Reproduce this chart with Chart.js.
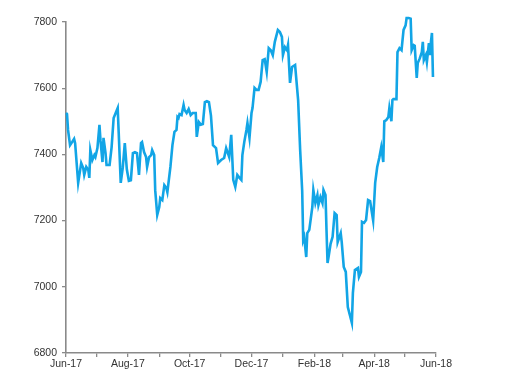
<!DOCTYPE html>
<html>
<head>
<meta charset="utf-8">
<script src="https://cdn.jsdelivr.net/npm/chart.js@4"></script>
<style>
html,body{margin:0;padding:0;background:#fff;}
#wrap{width:512px;height:392px;}
</style>
</head>
<body>
<div id="wrap"><canvas id="c" width="512" height="392"></canvas></div>
<script>
// Days since 1 Jun 2017
const days = [0,1,2,4,6,8,9,12,15,17,18,20,22,23,24,26,28,29,31,33,34,36,37,39,40,43,45,47,49,51,52,54,56,58,60,62,64,66,68,70,72,74,75,77,79,80,82,84,85,87,88,90,92,93,95,97,99,100,103,105,107,109,110,111,112,114,116,117,119,121,123,125,128,129,131,133,135,137,139,141,143,145,148,150,153,156,158,161,163,165,167,169,171,173,174,176,178,179,181,183,184,186,188,190,192,194,196,198,200,202,204,206,209,211,213,214,216,218,219,221,223,226,229,231,233,234,235,237,238,240,243,244,246,248,249,251,253,254,256,257,258,259,261,263,265,267,268,271,272,274,276,278,280,282,283,285,288,289,291,292,294,296,298,300,303,305,307,309,311,313,314,316,318,319,321,322,323,326,327,329,331,332,333,335,336,338,340,341,343,344,346,347,349,351,352,353,355,356,358,359,360,361,362];
// Index level
const values = [7525,7522,7474,7428,7437,7447,7434,7314,7374,7359,7338,7362,7353,7329,7413,7383,7398,7392,7419,7489,7443,7377,7450,7404,7368,7368,7422,7510,7525,7540,7465,7314,7360,7434,7355,7320,7322,7404,7407,7404,7338,7434,7437,7407,7392,7362,7392,7398,7413,7398,7292,7217,7241,7268,7262,7307,7298,7286,7362,7428,7468,7474,7513,7510,7522,7519,7549,7534,7525,7537,7519,7525,7525,7453,7498,7490,7492,7558,7561,7558,7517,7428,7419,7374,7383,7389,7419,7392,7459,7323,7302,7338,7330,7323,7398,7440,7474,7495,7450,7525,7540,7601,7595,7595,7619,7685,7688,7649,7721,7715,7700,7740,7776,7770,7755,7700,7724,7715,7730,7616,7664,7670,7564,7413,7290,7141,7150,7090,7162,7172,7241,7292,7253,7277,7247,7271,7253,7292,7277,7170,7072,7090,7130,7151,7223,7217,7135,7162,7135,7060,7045,6939,6915,6891,6981,7051,7057,7030,7045,7196,7193,7202,7262,7259,7200,7314,7362,7389,7422,7377,7500,7504,7513,7540,7500,7564,7567,7567,7709,7721,7715,7746,7776,7790,7812,7812,7810,7715,7730,7728,7631,7676,7690,7709,7740,7685,7700,7679,7736,7700,7740,7767,7634];
// Month starts (days since 1 Jun 2017) and their labels
const monthTicks = [0,30,61,92,122,153,183,214,245,273,304,334,365];
const monthLabels = ["Jun-17","","Aug-17","","Oct-17","","Dec-17","","Feb-18","","Apr-18","","Jun-18"];
const yTicks = [6800,7000,7200,7400,7600,7800];

const points = days.map((d,i)=>({x:d,y:values[i]}));
const axisColor = '#8a8a8a';
const font = {family:'"Liberation Sans", Arial, sans-serif', size:10.5};

new Chart(document.getElementById('c'), {
  type:'line',
  data:{datasets:[{
    data:points,
    borderColor:'#12a5e6',
    borderWidth:2.6,
    pointRadius:0,
    tension:0,
    fill:false,
    clip:{left:2,right:2,top:6,bottom:2}
  }]},
  options:{
    responsive:false,
    animation:false,
    events:[],
    layout:{padding:{top:22,right:76,left:0,bottom:0}},
    plugins:{legend:{display:false},tooltip:{enabled:false}},
    scales:{
      x:{
        type:'linear',min:0,max:365,
        afterBuildTicks:(s)=>{s.ticks = monthTicks.map(v=>({value:v}));},
        afterFit:(s)=>{s.height = 39;},
        ticks:{
          autoSkip:false,maxRotation:0,padding:1,color:'#333',font:font,
          callback:(v)=>{const i = monthTicks.indexOf(v); return i>=0 ? monthLabels[i] : '';}
        },
        grid:{display:true,drawOnChartArea:false,drawTicks:true,tickLength:4,color:axisColor,lineWidth:1.3},
        border:{display:true,color:axisColor,width:1.6}
      },
      y:{
        type:'linear',min:6800,max:7800,
        afterBuildTicks:(s)=>{s.ticks = yTicks.map(v=>({value:v}));},
        afterFit:(s)=>{s.width = 66;},
        ticks:{padding:5,color:'#333',font:font,callback:(v)=>String(v)},
        grid:{display:true,drawOnChartArea:false,drawTicks:true,tickLength:4,color:axisColor,lineWidth:1.3},
        border:{display:true,color:axisColor,width:1.6}
      }
    }
  }
});
</script>
</body>
</html>
